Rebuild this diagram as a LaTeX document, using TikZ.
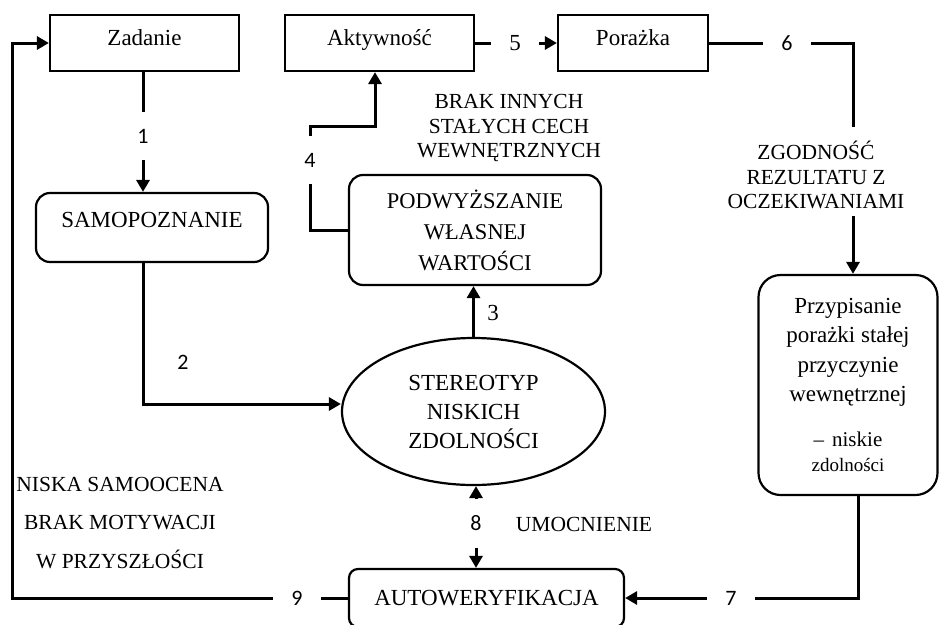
\documentclass[tikz,border=0pt]{standalone}
\usepackage{fontspec}
\setmainfont{Liberation Serif}
\newfontfamily\numfont{Carlito}
\usetikzlibrary{arrows.meta,shapes.geometric,calc}
\begin{document}
\begin{tikzpicture}[x=1pt,y=-1pt,
  box/.style={draw,line width=2.2pt,inner sep=0pt,font=\fontsize{23}{29}\selectfont,align=center},
  topbox/.style={box,minimum height=56pt,text height=16pt,text depth=12pt},
  rbox/.style={box,rounded corners=14pt},
  conn/.style={line width=3pt},
  arr/.style={conn,-{Triangle[length=12pt,width=13pt]}},
  num/.style={font=\numfont\fontsize{22}{22}\selectfont,inner sep=0pt,minimum width=48pt,minimum height=48pt},
  snum/.style={num,font=\fontsize{23}{23}\selectfont},
  lbl/.style={font=\fontsize{21.5}{24.5}\selectfont,align=center,inner sep=0pt},
]
\useasboundingbox (0,0) rectangle (939,624);

% boxes
\node[topbox,minimum width=189pt] (zad) at (144.5,43) {Zadanie};
\node[topbox,minimum width=189pt] (akt) at (379.5,43) {Aktywność};
\node[topbox,minimum width=150pt] (por) at (633,43) {Porażka};
\node[rbox,minimum width=232pt,minimum height=69pt,text height=16pt,text depth=16pt] (samo) at (152,227.5) {SAMOPOZNANIE};
\node[rbox,minimum width=252pt,minimum height=110pt,font=\fontsize{22.5}{31}\selectfont] (pod) at (475,230) {PODWYŻSZANIE\\WŁASNEJ\\WARTOŚCI};
\node[ellipse,draw,line width=2.2pt,minimum width=263pt,minimum height=147pt,inner sep=0pt,align=center,font=\fontsize{23}{29}\selectfont] (ell) at (473.5,411.5) {STEREOTYP\\NISKICH\\ZDOLNOŚCI};
\node[box,rounded corners=22pt,minimum width=179pt,minimum height=220pt,font=\fontsize{23}{29.5}\selectfont] (prz) at (848,385) {Przypisanie\\porażki stałej\\przyczynie\\wewnętrznej\\[15pt]{\fontsize{21}{24}\selectfont –\hspace{8pt}niskie}\\[-4pt]{\fontsize{19}{22}\selectfont zdolności}};
\node[box,rounded corners=9pt,minimum width=275pt,minimum height=58pt] (auto) at (486.5,598) {AUTOWERYFIKACJA};

% free labels
\node[lbl] (brak) at (509,128) {BRAK INNYCH\\STAŁYCH CECH\\WEWNĘTRZNYCH};
\node[lbl] (zg) at (816,175) {ZGODNOŚĆ\\REZULTATU Z\\OCZEKIWANIAMI};
\node[lbl,font=\fontsize{21.5}{38.5}\selectfont] (nis) at (120,523) {NISKA SAMOOCENA\\BRAK MOTYWACJI\\W PRZYSZŁOŚCI};
\node[lbl] (umo) at (584,524) {UMOCNIENIE};

% number labels
\node[num] (n1) at (143,136) {1};
\node[num] (n2) at (183,362) {2};
\node[snum] (n3) at (493,313) {3};
\node[num] (n4) at (310,160) {4};
\node[snum] (n5) at (515,43) {5};
\node[num] (n6) at (787,43) {6};
\node[num] (n7) at (731,598) {7};
\node[num] (n8) at (476,523.5) {8};
\node[num] (n9) at (297,598) {9};

% coordinates
\coordinate (c4) at (375,126);
\coordinate (c6) at (853,43);
\coordinate (c6b) at (853,127);
\coordinate (c6c) at (853,216);
\coordinate (c9) at (12,598);

% connectors
\draw[conn] (zad.south -| n1) -- (n1.north);
\draw[arr] (n1.south) -- (samo.north -| n1);
\draw[arr] (samo.south -| n1) |- ([yshift=7.5pt]ell.west);
\draw[arr] (ell.north) -- (ell.north |- pod.south);
\draw[conn] (pod.west) -| (n4.south);
\draw[arr] (n4.north) |- (c4) -- (c4 |- akt.south);
\draw[conn] (akt.east) -- (n5.west);
\draw[arr] (n5.east) -- (por.west);
\draw[conn] (por.east) -- (n6.west);
\draw[conn] (n6.east) -- (c6) -- (c6b);
\draw[arr] (c6c) -- (c6c |- prz.north);
\draw[conn] ([xshift=10pt]prz.south) |- (n7.east);
\draw[arr] (n7.west) -- (auto.east);
\draw[arr] (n8.north) -- (n8.north |- ell.south);
\draw[arr] (n8.south) -- (n8.south |- auto.north);
\draw[conn] (auto.west) -- (n9.east);
\draw[arr] (n9.west) -- (c9) |- (zad.west);
\end{tikzpicture}
\end{document}
